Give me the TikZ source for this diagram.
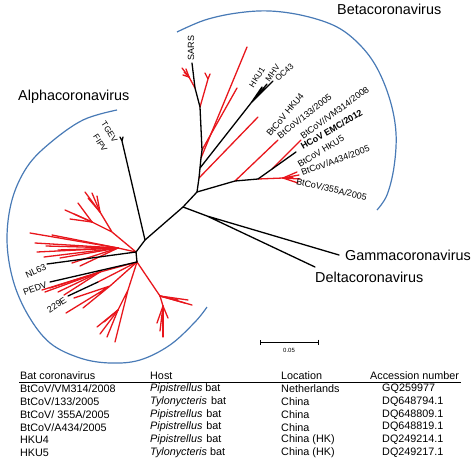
\documentclass[tikz,border=0pt]{standalone}
\usepackage{fontspec}
\setmainfont{Liberation Sans}
\usetikzlibrary{arrows.meta}
\definecolor{tred}{RGB}{232,22,28}
\definecolor{tblue}{RGB}{72,122,182}

\begin{document}
\begin{tikzpicture}[x=1pt, y=-1pt,
    br/.style={line width=1.3pt, line cap=round, line join=round},
    rb/.style={br, draw=tred},
    grp/.style={draw=tblue, line width=1.2pt},
    lf/.style={font=\fontsize{9}{10}\selectfont, inner sep=0.3pt},
    lfs/.style={font=\fontsize{8.3}{9}\selectfont, inner sep=0.3pt},
    cl/.style={font=\fontsize{14.4}{16}\selectfont, inner sep=0pt, anchor=west},
    tb/.style={font=\fontsize{10.8}{12}\selectfont, inner sep=0pt, anchor=west}
]
\useasboundingbox (0,0) rectangle (474,461);

\coordinate (a0) at (136,252);
\coordinate (a1) at (137,262);
\coordinate (t0) at (145,240);
\coordinate (g0) at (183,207);
\coordinate (b0) at (197,192);
\coordinate (tg) at (122,141);
\coordinate (g1) at (207,216);
\coordinate (gam) at (339,255);
\coordinate (del) at (315,267);

\coordinate (bt1) at (199,178);
\coordinate (bt2) at (200,168);
\coordinate (bt3) at (201,158);
\coordinate (bt4) at (202,150);
\coordinate (bt5) at (200,107);
\coordinate (bt6) at (195,88);
\coordinate (sars) at (192,63);
\coordinate (hk0) at (251,103);
\coordinate (l1) at (235,181);
\coordinate (l2) at (258,179);
\coordinate (em) at (296,152);
\coordinate (em1) at (272,169);
\coordinate (f0) at (283,178);

% beta, red
\draw[rb] (bt1) -- (258,117);
\draw[rb] (bt3) -- (247,47);
\draw[rb] (bt4) -- (237,88);
\coordinate (s1) at (208,79);
\draw[rb] (bt5) -- (s1) -- (205,73) (s1) -- (210,74);
\coordinate (sf0) at (189,77);
\draw[rb] (bt6) -- (sf0);
\foreach \x/\y [count=\k] in {182/68, 184/72, 186/69, 183/75}
  {\coordinate (sf\k) at (\x,\y); \draw[rb] (sf0) -- (sf\k);}
\draw[rb] (l1) -- (278,140);
\draw[rb] (em1) -- (301,140);
\draw[rb] (l2) -- (f0);
\foreach \x/\y [count=\k] in {297/172, 299/175, 300/179, 298/183, 293/178}
  {\coordinate (ff\k) at (\x,\y); \draw[rb] (f0) -- (ff\k);}

% alpha, red
\coordinate (u0) at (112,232);
\coordinate (u1) at (100,212);
\coordinate (u2) at (92,222);
\draw[rb] (a0) -- (u0) -- (u1) (u0) -- (u2);
\foreach \x/\y [count=\k] in {85/192, 92/193, 97/196, 88/198}
  {\coordinate (ua\k) at (\x,\y); \draw[rb] (u1) -- (ua\k);}
\foreach \x/\y [count=\k] in {65/210, 70/219, 78/203, 74/214}
  {\coordinate (ub\k) at (\x,\y); \draw[rb] (u2) -- (ub\k);}
\coordinate (lf0) at (118,248);
\draw[rb] (a0) -- (lf0);
\foreach \x/\y [count=\k] in {30/233, 52/235, 35/243, 46/246, 37/252, 44/257, 60/258, 58/250, 72/263, 80/266}
  {\coordinate (lt\k) at (\x,\y); \draw[rb] (lf0) -- (lt\k);}
\coordinate (pr0) at (100,272);
\draw[rb] (a1) -- (pr0);
\foreach \x/\y [count=\k] in {42/290, 45/292, 50/288, 58/292, 64/295}
  {\coordinate (pt\k) at (\x,\y); \draw[rb] (pr0) -- (pt\k);}
\coordinate (p2) at (98,282);
\draw[rb] (a1) -- (p2);
\coordinate (ll0) at (110,286);
\draw[rb] (a1) -- (ll0) -- (66,313) (ll0) -- (83,308) (ll0) -- (74,298);
\coordinate (lo0) at (128,290);
\coordinate (lo1) at (118,310);
\draw[rb] (a1) -- (lo0) -- (115,342) (lo0) -- (lo1);
\foreach \x/\y [count=\k] in {97/327, 100/334, 107/337, 104/322}
  {\coordinate (lo\k x) at (\x,\y); \draw[rb] (lo1) -- (lo\k x);}
\coordinate (rr0) at (160,296);
\coordinate (rr1) at (163,306);
\draw[rb] (a1) -- (rr0) -- (rr1);
\foreach \x/\y [count=\k] in {192/305, 185/303, 188/300, 178/300}
  {\coordinate (ra\k) at (\x,\y); \draw[rb] (rr0) -- (ra\k);}
\foreach \x/\y [count=\k] in {163/337, 157/323, 160/331, 168/318}
  {\coordinate (rb\k) at (\x,\y); \draw[rb] (rr1) -- (rb\k);}

% black
\draw[br] (a1) -- (a0) -- (t0) -- (g0) -- (b0);
\draw[br] (t0) -- (tg) -- (120,137) (tg) -- (123,137);
\draw[br] (g0) -- (g1) -- (gam) (g1) -- (del);
\draw[br] (b0) -- (bt1) -- (bt2) -- (bt3) -- (bt4) -- (bt5) -- (bt6) -- (sars);
\draw[br] (bt2) -- (hk0) -- (262,87) (hk0) -- (267,84) (hk0) -- (273,81);
\draw[br] (b0) -- (l1) -- (l2) -- (em);
\draw[br] (a0) -- (47,264);
\draw[br] (a1) -- (50,282);
\draw[br] (p2) -- (68,296);

% groups
\draw[grp] plot[smooth, tension=0.6] coordinates {(117,110) (83,120) (50,143) (27,167) (12,200) (7,240) (13,280) (28,315) (50,343) (80,358) (110,363) (140,360) (170,345) (195,322) (207,307)};
\draw[grp] plot[smooth, tension=0.6] coordinates {(177,32) (205,20) (237,13) (270,11) (305,16) (337,27) (360,45) (377,68) (390,100) (396,133) (394,167) (387,195) (377,210)};

\node[cl] (alpha) at (18,97) {Alphacoronavirus};
\node[cl] (beta) at (337,9) {Betacoronavirus};
\node[cl] (gamma) at (345,255) {Gammacoronavirus};
\node[cl] (delta) at (315,277) {Deltacoronavirus};

\node[lf, rotate=90, anchor=west] (sarsl) at (191,61) {SARS};
\node[lfs, rotate=58, anchor=west] (hku1) at (251,87) {HKU1};
\node[lfs, rotate=55, anchor=west] (mhv) at (267,81) {MHV};
\node[lfs, rotate=43, anchor=west] (oc43) at (276,80) {OC43};
\node[lf, rotate=50, anchor=west] (hku4) at (268,135) {BtCoV HKU4};
\node[lf, rotate=38, anchor=west] (b133) at (278,137) {BtCoV/133/2005};
\node[lf, rotate=36, anchor=west] (vm314) at (301,137) {BtCoV//VM314/2008};
\node[lf, rotate=30, anchor=west] (emc) at (301,147) {\textbf{HCoV EMC/2012}};
\node[lf, rotate=31, anchor=west] (hku5) at (298,165) {BtCoV HKU5};
\node[lf, rotate=20, anchor=west] (a434) at (301,173) {BtCoV/A434/2005};
\node[lf, rotate=-13, anchor=west] (s355) at (296,181) {BtCoV/355A/2005};
\node[lfs, rotate=-57, anchor=west] (tgev) at (103,122) {TGEV};
\node[lfs, rotate=-57, anchor=west] (fipv) at (95,135) {FIPV};
\node[lf, rotate=25, anchor=east] (nl63) at (46,266) {NL63};
\node[lf, rotate=20, anchor=east] (pedv) at (47,284) {PEDV};
\node[lf, rotate=33, anchor=east] (e229) at (66,299) {229E};

\coordinate (sc0) at (260,342);
\coordinate (sc1) at (319,342);
\draw[line width=0.8pt, {Bar[width=5pt]}-{Bar[width=5pt]}] (sc0) -- (sc1);
\node[font=\fontsize{6}{7}\selectfont] (scl) at (289,350) {0.05};

\node[tb] (h1) at (20,376) {Bat coronavirus};
\node[tb] (h2) at (150,376) {Host};
\node[tb] (h3) at (281,376) {Location};
\node[tb] (h4) at (370,376) {Accession number};
\draw[line width=0.6pt] (19,382) -- (461,382);
\foreach \v/\h/\l/\n [count=\i] in {
  {BtCoV/VM314/2008}/{\textit{Pipistrellus} bat}/Netherlands/GQ259977,
  {BtCoV/133/2005}/{\textit{Tylonycteris}\hspace{4pt}bat}/China/DQ648794.1,
  {BtCoV/ 355A/2005}/{\textit{Pipistrellus}\hspace{4pt}bat}/China/DQ648809.1,
  {BtCoV/A434/2005}/{\textit{Pipistrellus}\hspace{4pt}bat}/China/DQ648819.1,
  HKU4/{\textit{Pipistrellus}\hspace{4pt}bat}/China (HK)/DQ249214.1,
  HKU5/{\textit{Tylonycteris} bat}/China (HK)/DQ249217.1}{
  \node[tb] (v\i) at (20,376+12.8*\i) {\v};
  \node[tb] (o\i) at (150,376+12.8*\i) {\h};
  \node[tb] (c\i) at (281,376+12.8*\i) {\l};
  \node[tb] (n\i) at (382,376+12.8*\i) {\n};
}
\end{tikzpicture}
\end{document}
